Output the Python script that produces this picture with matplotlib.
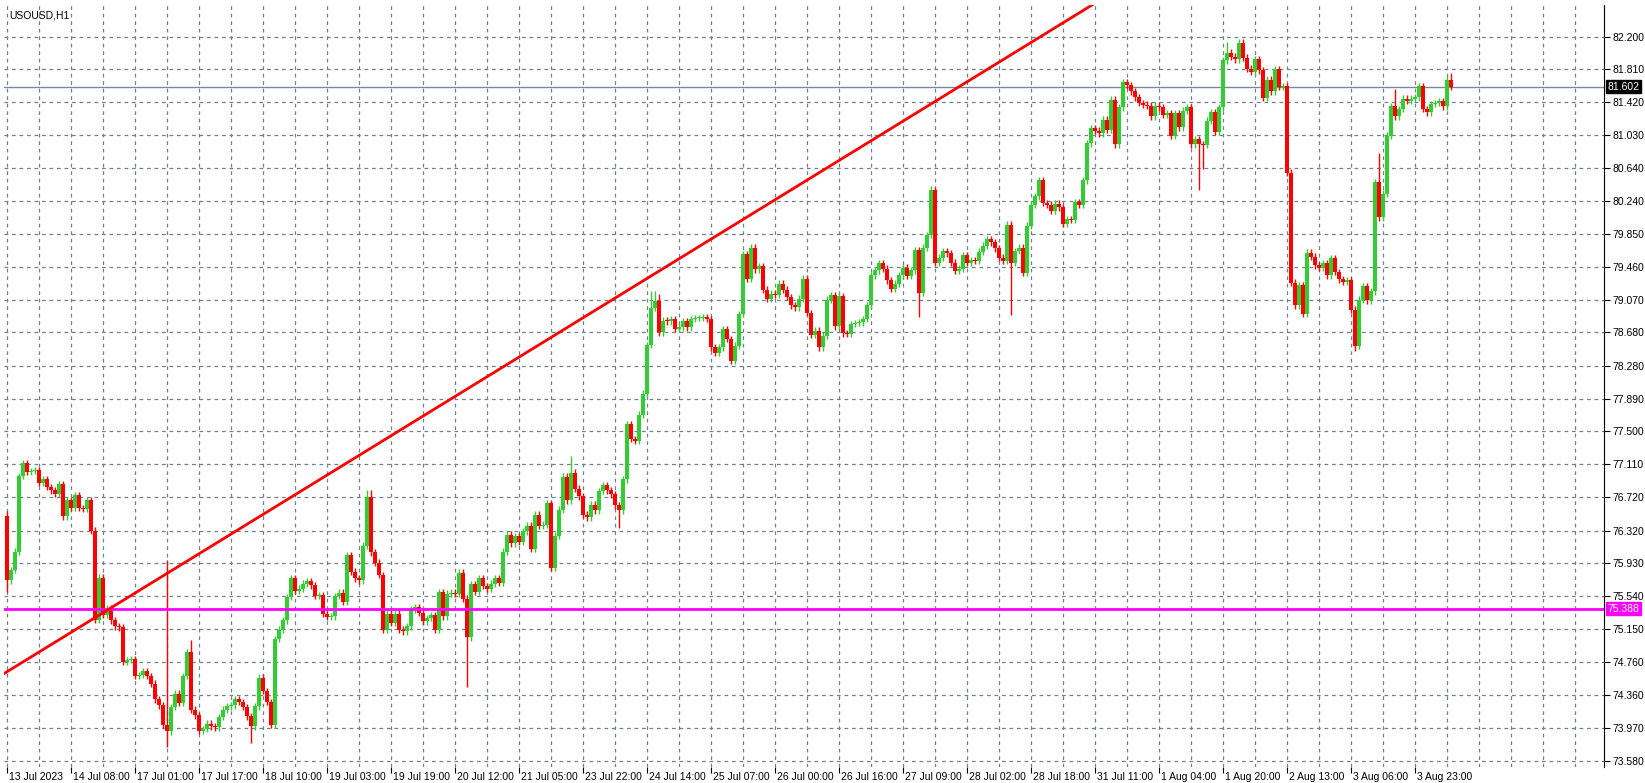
import matplotlib
matplotlib.use("Agg")
import matplotlib.pyplot as plt
import matplotlib.transforms as mtransforms

plt.rcParams['font.family'] = ['Liberation Sans', 'DejaVu Sans']

closes = [75.73,75.85,76.07,76.97,77.12,77.02,77.03,77.04,76.89,76.93,76.84,76.80,76.76,76.87,76.49,76.68,
76.59,76.74,76.59,76.58,76.68,76.32,75.26,75.76,75.32,75.39,75.25,75.18,75.17,74.76,74.78,74.79,
74.59,74.60,74.65,74.59,74.50,74.31,74.24,74.01,73.93,74.22,74.38,74.27,74.59,74.87,74.19,74.12,
73.94,73.96,74.02,73.99,73.98,74.10,74.19,74.23,74.24,74.31,74.28,74.22,74.11,73.99,74.23,74.57,
74.41,74.28,74.01,75.03,75.14,75.25,75.53,75.75,75.60,75.63,75.69,75.72,75.67,75.54,75.55,75.33,
75.29,75.30,75.54,75.58,75.47,76.03,75.83,75.75,75.73,76.14,76.72,76.06,75.94,75.79,75.14,75.33,
75.22,75.33,75.14,75.12,75.18,75.38,75.41,75.34,75.24,75.28,75.31,75.14,75.59,75.30,75.57,75.58,
75.57,75.82,75.51,75.05,75.68,75.59,75.75,75.66,75.63,75.69,75.75,75.70,76.07,76.27,76.17,76.25,
76.19,76.31,76.38,76.10,76.51,76.38,76.39,76.65,75.88,76.26,76.57,76.96,76.68,77.01,76.82,76.73,
76.51,76.48,76.63,76.56,76.79,76.86,76.80,76.75,76.62,76.56,76.93,77.59,77.41,77.39,77.70,77.95,
78.53,78.97,79.05,78.68,78.82,78.81,78.84,78.72,78.74,78.81,78.74,78.84,78.85,78.85,78.86,78.84,
78.50,78.44,78.50,78.72,78.60,78.34,78.52,78.90,79.61,79.32,79.69,79.43,79.47,79.19,79.08,79.14,
79.13,79.26,79.19,79.10,79.00,78.98,79.08,79.32,78.91,78.65,78.70,78.50,78.64,79.07,79.12,78.75,
79.11,78.67,78.66,78.78,78.79,78.80,78.84,79.00,79.36,79.42,79.50,79.44,79.30,79.20,79.26,79.36,
79.45,79.35,79.42,79.66,79.15,79.69,79.84,80.37,79.51,79.57,79.65,79.62,79.51,79.41,79.44,79.60,
79.51,79.54,79.53,79.64,79.71,79.79,79.75,79.68,79.57,79.53,79.96,79.51,79.65,79.69,79.39,79.95,
80.20,80.30,80.49,80.22,80.20,80.13,80.21,80.17,79.97,80.03,80.02,80.23,80.20,80.49,80.93,81.11,
81.08,81.05,81.21,81.09,81.45,80.92,81.36,81.66,81.62,81.55,81.48,81.41,81.39,81.38,81.25,81.38,
81.36,81.27,81.29,81.02,81.29,81.12,81.32,81.36,80.92,80.98,80.92,80.91,81.20,81.30,81.07,81.36,
81.92,82.01,81.96,81.93,82.13,81.95,81.82,81.78,81.93,81.80,81.47,81.69,81.55,81.81,81.60,81.61,
80.58,79.27,79.00,79.24,78.90,79.63,79.58,79.48,79.45,79.50,79.36,79.56,79.40,79.31,79.28,79.30,
78.95,78.52,79.07,79.23,79.06,79.17,80.47,80.05,80.33,81.02,81.37,81.25,81.34,81.46,81.44,81.46,
81.48,81.61,81.34,81.30,81.40,81.41,81.43,81.37,81.69,81.60]
first_open = 76.49

# notable wick extremes: index -> price
wick_highs = {0: 76.55, 40: 75.97, 46: 75.02, 90: 76.80, 91: 76.80, 141: 77.21, 161: 79.17, 162: 79.17,
              163: 79.14, 231: 80.42, 305: 82.14, 343: 80.82, 347: 81.58, 361: 81.77}
wick_lows = {0: 75.59, 40: 73.75, 61: 73.79, 115: 74.46, 153: 76.35, 228: 78.86, 251: 78.89,
             298: 80.37, 299: 80.62, 337: 78.46}
default_wick = 0.04

time_labels = ["13 Jul 2023","14 Jul 08:00","17 Jul 01:00","17 Jul 17:00","18 Jul 10:00","19 Jul 03:00",
               "19 Jul 19:00","20 Jul 12:00","21 Jul 05:00","23 Jul 22:00","24 Jul 14:00","25 Jul 07:00",
               "26 Jul 00:00","26 Jul 16:00","27 Jul 09:00","28 Jul 02:00","28 Jul 18:00","31 Jul 11:00",
               "1 Aug 04:00","1 Aug 20:00","2 Aug 13:00","3 Aug 06:00","3 Aug 23:00"]
price_labels = ["82.200","81.810","81.420","81.030","80.640","80.240","79.850","79.460","79.070","78.680",
                "78.280","77.890","77.500","77.110","76.720","76.320","75.930","75.540","75.150","74.760",
                "74.360","73.970","73.580"]
hline_level = 75.388
bid_level = 81.602
trend_start = 74.64   # price of the trend line at bar 0
trend_slope = 0.02926 # per bar

GREEN = "#32CD32"
RED = "#FF0000"
GRID = "#708090"
FS = 7.5

fig = plt.figure(figsize=(16.45, 7.83), dpi=100)
ax = fig.add_axes([4/1645, 16/783, 1600/1645, 762/783])
ax.set_xlim(-0.75, 399.25)
ax.set_ylim(73.506, 82.577)

opens = [first_open] + closes[:-1]
for i, (o, c) in enumerate(zip(opens, closes)):
    col = GREEN if c >= o else RED
    hi = wick_highs.get(i, max(o, c) + default_wick)
    lo = wick_lows.get(i, min(o, c) - default_wick)
    ax.vlines(i, lo, hi, color=col, linewidth=1.0, zorder=3)
    bot = min(o, c)
    h = max(abs(c - o), 0.012)
    ax.bar(i, h, bottom=bot, width=0.8, color=col, linewidth=0, zorder=4)

for k in range(0, 400, 8):
    ax.axvline(k, color=GRID, linestyle=(0, (3, 3)), linewidth=0.9, zorder=1)
yvals = [float(s) for s in price_labels]
for v in yvals:
    ax.axhline(v, color=GRID, linestyle=(0, (3, 3)), linewidth=0.9, zorder=1)

ax.axhline(hline_level, color="#FF00FF", linewidth=2, zorder=5)
ax.axhline(bid_level, color="#778899", linewidth=1, zorder=2)
xs = [-1, 400]
ax.plot(xs, [trend_start + trend_slope * x for x in xs], color=RED, linewidth=2, zorder=5)

for s in ["top", "left", "bottom"]:
    ax.spines[s].set_visible(False)
ax.spines["right"].set_color("black")
ax.yaxis.tick_right()
ax.set_yticks(yvals)
ax.set_yticklabels(price_labels, fontsize=FS)
ax.tick_params(axis="y", length=4, pad=2)
ax.set_xticks([16 * k for k in range(len(time_labels))])
ax.set_xticklabels([])
ax.tick_params(axis="x", length=4, direction="out")
trans = mtransforms.blended_transform_factory(ax.transData, ax.transAxes)
for k, lab in enumerate(time_labels):
    ax.text(16 * k + 0.6, -0.006, lab, transform=trans, ha="left", va="top", fontsize=FS)

ax.axhline(73.506, color=GRID, linewidth=0.8)

transy = mtransforms.blended_transform_factory(ax.transAxes, ax.transData)
ax.text(1.002, bid_level, "81.602", transform=transy, ha="left", va="center", fontsize=FS,
        color="white", bbox=dict(boxstyle="square,pad=0.15", fc="black", ec="black"), zorder=10)
ax.text(1.002, hline_level, "75.388", transform=transy, ha="left", va="center", fontsize=FS,
        color="white", bbox=dict(boxstyle="square,pad=0.15", fc="#FF00FF", ec="#FF00FF"), zorder=10)

ax.text(0.003, 0.993, "USOUSD,H1", transform=ax.transAxes, ha="left", va="top", fontsize=FS)

fig.savefig("out.png", dpi=100, facecolor="white")
